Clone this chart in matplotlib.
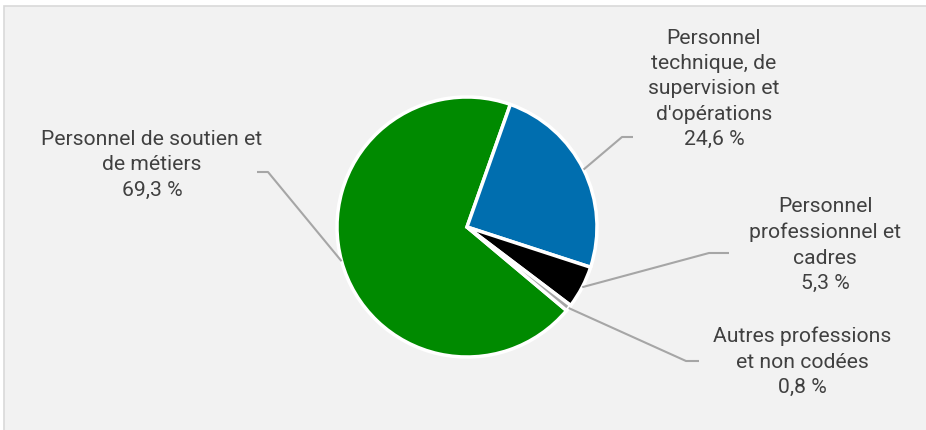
import numpy as np
import matplotlib
matplotlib.use("Agg")
import matplotlib.pyplot as plt
from matplotlib.patches import Rectangle

categories = ["Personnel de soutien et\nde métiers",
              "Personnel\ntechnique, de\nsupervision et\nd'opérations",
              "Personnel\nprofessionnel et\ncadres",
              "Autres professions\net non codées"]
values = [69.3, 24.6, 5.3, 0.8]
colors = ["#008A00", "#006EAF", "#000000", "#A6A6A6"]

W, H = 926, 430
fig = plt.figure(figsize=(W / 100, H / 100), dpi=100, facecolor="white")
ax = fig.add_axes([0, 0, 1, 1])
ax.set_xlim(0, W)
ax.set_ylim(0, H)
ax.set_aspect("equal")
ax.axis("off")

def py(y):
    return H - y

ax.add_patch(Rectangle((4, -5), W, py(6) + 5, facecolor="#F2F2F2",
                       edgecolor="#D9D9D9", linewidth=1.2, zorder=0))

cx, cy, r = 467, py(227), 130
wedges, _ = ax.pie(values, colors=colors, startangle=-40, counterclock=False,
                   center=(cx, cy), radius=r, frame=True,
                   wedgeprops=dict(edgecolor="white", linewidth=2.5))
ax.set_xlim(0, W)
ax.set_ylim(0, H)
ax.axis("off")

# label layout (pixel positions): elbow, line end, text centre
layout = [
    ((268, 172), (257, 172), (152, 165)),
    ((622, 137), (633, 137), (714, 89)),
    ((709, 253), (729, 253), (825, 245)),
    ((686, 361), (699, 361), (802, 362)),
]

for w, cat, val, (elb, end, tc) in zip(wedges, categories, values, layout):
    mid = np.deg2rad((w.theta1 + w.theta2) / 2)
    ex, ey = cx + r * np.cos(mid), cy + r * np.sin(mid)
    ax.plot([ex, elb[0], end[0]], [ey, py(elb[1]), py(end[1])],
            color="#A6A6A6", linewidth=1.5, zorder=1, solid_capstyle="butt")
    label = f"{cat}\n{val:.1f} %".replace(".", ",")
    ax.text(tc[0], py(tc[1]), label, ha="center", va="center",
            multialignment="center", fontsize=15.2, family="Roboto",
            color="#404040", linespacing=1.42, zorder=3)

fig.savefig("out.png", dpi=100, facecolor="white")
